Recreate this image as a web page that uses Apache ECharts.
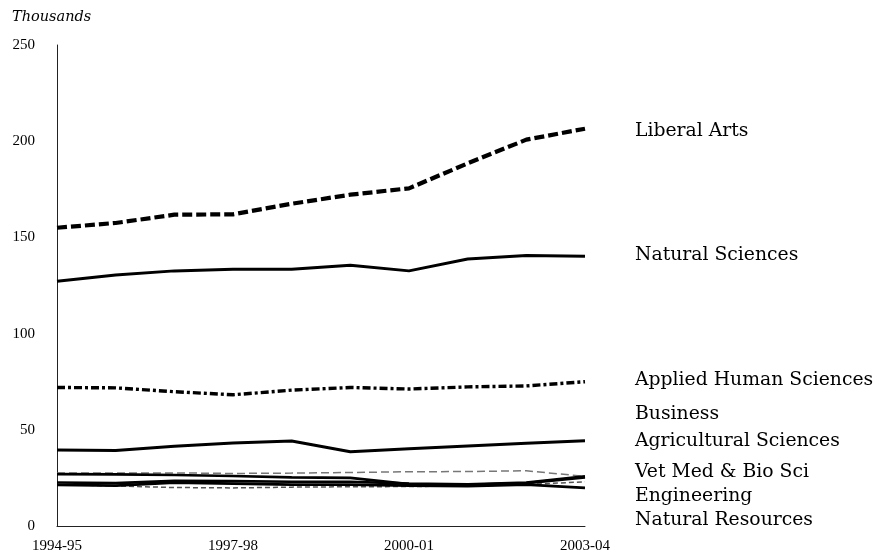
<!DOCTYPE html>
<html>
<head>
<meta charset="utf-8">
<script src="https://cdn.jsdelivr.net/npm/echarts@6/dist/echarts.min.js"></script>
<style>
html, body { margin: 0; padding: 0; background: #fff; }
#main { width: 874px; height: 554px; }
</style>
</head>
<body>
<div id="main"></div>
<script>
var years = ["1994-95","1995-96","1996-97","1997-98","1998-99","1999-00","2000-01","2001-02","2002-03","2003-04"];

var liberalArts    = [155, 157.5, 161.8, 162, 167.5, 172.2, 175.5, 188.5, 200.8, 206.5];
var naturalSci     = [127.2, 130.5, 132.6, 133.4, 133.4, 135.5, 132.6, 138.8, 140.6, 140.2];
var appliedHuman   = [72, 71.8, 69.8, 68.2, 70.6, 72, 71.2, 72.3, 72.8, 75];
var business       = [39.5, 39.3, 41.5, 43.2, 44.2, 38.6, 40.2, 41.6, 43, 44.3];
var agricultural   = [27, 26.8, 26.5, 26, 25.3, 25, 21.8, 21.4, 22.3, 25.2];
var vetMed         = [27.5, 27.6, 27.6, 27.3, 27.5, 27.8, 28.2, 28.3, 28.7, 25.8];
var engineering    = [22.6, 22.3, 23.5, 23.3, 23, 23, 22, 21.6, 22.5, 25.8];
var other          = [21.4, 21, 22.5, 22, 21.5, 21.5, 21, 20.7, 21.5, 19.8];
var naturalRes     = [21.5, 20.8, 20, 19.8, 20.2, 20.4, 20.5, 20.8, 21.5, 23];

var chart = echarts.init(document.getElementById("main"));
var serif = "DejaVu Serif";
var tickFont = "Liberation Serif";

function mkLine(name, data, color, width, dash)
{
	return {
		name: name,
		type: 'line',
		data: data,
		symbol: 'none',
		silent: true,
		lineStyle: { color: color, width: width, type: dash || 'solid', cap: 'butt' }
	};
}

// series names at the right, y = text centre in px
function label(text, y)
{
	return {
		type: 'text', x: 635, y: y,
		style: { text: text, font: '18.8px "' + serif + '"', fill: '#000', verticalAlign: 'middle' }
	};
}

var option = {
	animation: false,
	grid: { left: 57, right: 289, top: 45, bottom: 27 },
	xAxis: {
		type: 'category',
		data: years,
		boundaryGap: false,
		axisLine: { lineStyle: { color: '#222', width: 1 } },
		axisTick: { show: false },
		axisLabel: { interval: 2, margin: 13, color: '#000', fontFamily: tickFont, fontSize: 15 }
	},
	yAxis: {
		type: 'value',
		min: 0, max: 250, interval: 50,
		axisLine: { show: true, lineStyle: { color: '#222', width: 1 } },
		axisTick: { show: false },
		splitLine: { show: false },
		axisLabel: { margin: 22, color: '#000', fontFamily: tickFont, fontSize: 15 }
	},
	graphic: [
		{ type: 'text', x: 12, y: 17, style: { text: 'Thousands', font: 'italic 14.5px "' + serif + '"', fill: '#000', verticalAlign: 'middle' } },
		label('Liberal Arts', 131),
		label('Natural Sciences', 255),
		label('Applied Human Sciences', 380),
		label('Business', 414),
		label('Agricultural Sciences', 441),
		label('Vet Med & Bio Sci', 472),
		label('Engineering', 496),
		label('Natural Resources', 520)
	],
	series: [
		mkLine('Natural Resources', naturalRes, '#555', 1.5, [5, 3]),
		mkLine('Vet Med & Bio Sci', vetMed, '#777', 1.5, [8, 4]),
		mkLine('Other', other, '#000', 2.7),
		mkLine('Engineering', engineering, '#000', 2.7),
		mkLine('Agricultural Sciences', agricultural, '#000', 2.7),
		mkLine('Business', business, '#000', 3),
		mkLine('Applied Human Sciences', appliedHuman, '#000', 3.4, [8, 3, 3, 3]),
		mkLine('Natural Sciences', naturalSci, '#000', 3),
		mkLine('Liberal Arts', liberalArts, '#000', 4.2, [10, 4])
	]
};
chart.setOption(option);
</script>
</body>
</html>
